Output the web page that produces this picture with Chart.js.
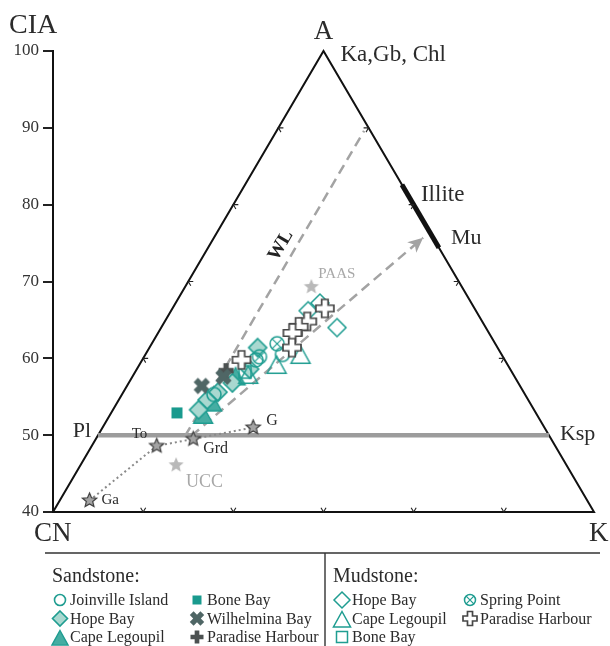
<!DOCTYPE html>
<html>
<head>
<meta charset="utf-8">
<title>A-CN-K diagram</title>
<script src="https://cdn.jsdelivr.net/npm/chart.js@4/dist/chart.umd.min.js"></script>
<style>
  html, body { margin: 0; padding: 0; background: #fff; }
  #c { display: block; }
</style>
</head>
<body>
<canvas id="c" width="610" height="646"></canvas>
<script>
// ---------------------------------------------------------------
// Compositions as [A (= CIA), K] in molar %, CN = 100 - A - K
// ---------------------------------------------------------------
const ciaTicks = [40, 50, 60, 70, 80, 90, 100];

// Sandstones
const sandJoinville     = [[60.5, 15.2], [59.8, 12.6], [55.3, 10.2]];
const sandHopeBay       = [[61.4, 12.0], [58.6, 12.5], [56.8, 11.5], [55.6, 10.5], [54.6, 9.8], [53.3, 9.5]];
const sandCapeLegoupil  = [[57.5, 11.5], [54.1, 10.6], [52.5, 10.4]];
const sandBoneBay       = [[52.9, 7.3]];
const sandWilhelmina    = [[56.4, 8.3], [57.6, 10.1]];
const sandParadise      = [[58.4, 10.0]];

// Mudstones
const mudHopeBay        = [[66.2, 15.2], [67.2, 16.0], [64.0, 19.5]];
const mudCapeLegoupil   = [[59.0, 15.3], [60.3, 17.3], [57.7, 12.8]];
const mudBoneBay        = [[58.2, 12.2]];
const mudSpringPoint    = [[61.9, 13.9], [60.2, 12.8]];
const mudParadise       = [[66.5, 16.9], [64.8, 15.8], [64.1, 15.2], [63.3, 14.9], [61.4, 15.8], [59.8, 11.0]];

// Igneous reference rocks (gabbro, tonalite, granodiorite, granite)
const rockNames = ['Ga', 'To', 'Grd', 'G'];
const rockA     = [41.5, 48.6, 49.5, 51.0];
const rockK     = [3.3, 7.2, 10.8, 16.7];

// Average crusts
const crustNames = ['PAAS', 'UCC'];
const crustA     = [69.3, 46.1];
const crustK     = [14.0, 10.6];

// Diagram frame and reference lines
const frameAK      = [[40, 0], [100, 0], [40, 60], [40, 0]];
const feldsparAK   = [[50, 0], [50, 50]];          // Pl - Ksp join
const illiteMuAK   = [[82.6, 17.4], [74.4, 25.6]];  // Illite - Mu field
const weatherAK    = [[49.9, 9.7], [89.6, 9.7]];    // WL trend
const trendAK      = [[49.9, 10.4], [75.7, 23.2]];  // trend towards Mu
const edgeTickA    = [60, 70, 80, 90];
const baseTickK    = [10, 20, 30, 40, 50];

// ternary [A, K] -> cartesian (x in 20..80, y = A)
const toXY = ([a, k]) => ({ x: k + a / 2, y: a });

// ---------------------------------------------------------------
// Marker styles
// ---------------------------------------------------------------
const TEAL = '#1f9d91';
const TEAL_LIGHT = '#a9d8d0';
const SERIF = "'Liberation Serif', 'Times New Roman', serif";

const markers = {
  sJoin:  { shape: 'circle',   stroke: TEAL, lw: 1.6, size: 7,   lsize: 5.5 },
  sHope:  { shape: 'diamond',  fill: TEAL_LIGHT, stroke: TEAL, lw: 1.6, size: 9, lsize: 7.5 },
  sCape:  { shape: 'triangle', fill: '#45ada2', stroke: TEAL, lw: 1.4, size: 10, lsize: 8.5 },
  sBone:  { shape: 'square',   fill: '#199a8e', size: 5.5, lsize: 4.5 },
  sWilh:  { shape: 'plus', rotate: Math.PI / 4, fill: '#4f6665', size: 8.5, lsize: 7.5 },
  sPara:  { shape: 'plus',     fill: '#4c5151', size: 7.5, lsize: 6.5 },
  mHope:  { shape: 'diamond',  stroke: TEAL, lw: 1.5, size: 9, lsize: 8 },
  mCape:  { shape: 'triangle', stroke: TEAL, lw: 1.5, size: 10, lsize: 9 },
  mBone:  { shape: 'square',   stroke: TEAL, lw: 1.5, size: 6, lsize: 5.5 },
  mSpring:{ shape: 'circle',   stroke: TEAL, lw: 1.5, inner: 'x', size: 7, lsize: 5.5 },
  mPara:  { shape: 'plus',     stroke: '#474747', fill: '#ffffff', lw: 1.7, size: 9, lsize: 7 },
  rock:   { shape: 'star',     fill: '#a3a3a3', stroke: '#3d3d3d', lw: 1.2, size: 7.5 },
  crust:  { shape: 'star',     fill: '#b9b9b9', size: 8 }
};

function shapePath(ctx, shape, s) {
  ctx.beginPath();
  if (shape === 'circle') {
    ctx.arc(0, 0, s, 0, Math.PI * 2);
  } else if (shape === 'diamond') {
    ctx.moveTo(0, -s); ctx.lineTo(s, 0); ctx.lineTo(0, s); ctx.lineTo(-s, 0); ctx.closePath();
  } else if (shape === 'triangle') {
    ctx.moveTo(0, -s); ctx.lineTo(s * 0.95, s * 0.72); ctx.lineTo(-s * 0.95, s * 0.72); ctx.closePath();
  } else if (shape === 'square') {
    ctx.rect(-s, -s, 2 * s, 2 * s);
  } else if (shape === 'plus') {
    const w = s * 0.36;
    const pts = [[-w, -s], [w, -s], [w, -w], [s, -w], [s, w], [w, w], [w, s], [-w, s], [-w, w], [-s, w], [-s, -w], [-w, -w]];
    pts.forEach((p, i) => i ? ctx.lineTo(p[0], p[1]) : ctx.moveTo(p[0], p[1]));
    ctx.closePath();
  } else if (shape === 'star') {
    for (let i = 0; i < 10; i++) {
      const r = i % 2 ? s * 0.45 : s;
      const ang = -Math.PI / 2 + i * Math.PI / 5;
      const px = r * Math.cos(ang), py = r * Math.sin(ang);
      i ? ctx.lineTo(px, py) : ctx.moveTo(px, py);
    }
    ctx.closePath();
  }
}

function paintMarker(ctx, m, x, y, s) {
  ctx.save();
  ctx.translate(x, y);
  if (m.rotate) ctx.rotate(m.rotate);
  shapePath(ctx, m.shape, s);
  if (m.fill) { ctx.fillStyle = m.fill; ctx.fill(); }
  if (m.stroke) {
    ctx.strokeStyle = m.stroke; ctx.lineWidth = m.lw || 1.5; ctx.lineJoin = 'miter'; ctx.stroke();
  }
  if (m.inner === 'x') {
    const d = s * 0.7;
    ctx.beginPath();
    ctx.moveTo(-d, -d); ctx.lineTo(d, d);
    ctx.moveTo(d, -d); ctx.lineTo(-d, d);
    ctx.strokeStyle = m.stroke; ctx.lineWidth = 1.2; ctx.stroke();
  }
  ctx.restore();
}

function markerCanvas(m) {
  const d = Math.ceil(m.size * 2 + 6);
  const c = document.createElement('canvas');
  c.width = d; c.height = d;
  paintMarker(c.getContext('2d'), m, d / 2, d / 2, m.size);
  return c;
}

function sampleSet(label, arr, m) {
  return {
    label, data: arr.map(toXY), showLine: false,
    pointStyle: markerCanvas(m), pointRadius: m.size, pointHoverRadius: m.size,
    order: 1, clip: false
  };
}

function lineSet(label, arr, color, width, dash, order) {
  return {
    label, data: arr.map(toXY), showLine: true, pointRadius: 0, pointHoverRadius: 0,
    borderColor: color, borderWidth: width, borderDash: dash || [], fill: false,
    tension: 0, order: order, clip: false
  };
}

const rockPts  = rockA.map((a, i) => [a, rockK[i]]);
const crustPts = crustA.map((a, i) => [a, crustK[i]]);

const datasets = [
  sampleSet('Mudstone Paradise Harbour', mudParadise, markers.mPara),
  sampleSet('Mudstone Hope Bay', mudHopeBay, markers.mHope),
  sampleSet('Mudstone Spring Point', mudSpringPoint, markers.mSpring),
  sampleSet('Mudstone Cape Legoupil', mudCapeLegoupil, markers.mCape),
  sampleSet('Mudstone Bone Bay', mudBoneBay, markers.mBone),
  sampleSet('Sandstone Joinville Island', sandJoinville, markers.sJoin),
  sampleSet('Sandstone Wilhelmina Bay', sandWilhelmina, markers.sWilh),
  sampleSet('Sandstone Paradise Harbour', sandParadise, markers.sPara),
  sampleSet('Sandstone Hope Bay', sandHopeBay, markers.sHope),
  sampleSet('Sandstone Cape Legoupil', sandCapeLegoupil, markers.sCape),
  sampleSet('Sandstone Bone Bay', sandBoneBay, markers.sBone),
  Object.assign(sampleSet('Igneous rocks', rockPts, markers.rock), { order: 2 }),
  Object.assign(sampleSet('Average crust', crustPts, markers.crust), { order: 2 }),
  lineSet('Igneous trend', rockPts, '#8a8a8a', 2, [2, 3], 6),
  lineSet('WL', weatherAK, '#a3a3a3', 2.5, [10, 6], 6),
  lineSet('Trend', trendAK, '#a3a3a3', 2.5, [10, 6], 6),
  lineSet('Pl-Ksp', feldsparAK, '#9c9c9c', 4.5, [], 7),
  lineSet('Illite-Mu', illiteMuAK, '#111', 5, [], 7),
  lineSet('Frame', frameAK, '#111', 2, [], 8)
];

// ---------------------------------------------------------------
// Overlay: edge ticks, arrow head, annotation text
// ---------------------------------------------------------------
const overlay = {
  id: 'overlay',
  afterDatasetsDraw(chart) {
    const ctx = chart.ctx;
    const xs = chart.scales.x, ys = chart.scales.y;
    const P = (a, k) => ({ x: xs.getPixelForValue(k + a / 2), y: ys.getPixelForValue(a) });
    const unit = (p, q) => { const dx = q.x - p.x, dy = q.y - p.y, l = Math.hypot(dx, dy); return { x: dx / l, y: dy / l }; };
    const cn = P(40, 0), ap = P(100, 0), kv = P(40, 60);

    ctx.save();
    // ternary edge ticks
    ctx.strokeStyle = '#222'; ctx.lineWidth = 1.1;
    const tick = (p, d1, d2) => {
      const L = 5;
      ctx.beginPath();
      ctx.moveTo(p.x + d1.x * L, p.y + d1.y * L);
      ctx.lineTo(p.x, p.y);
      ctx.lineTo(p.x + d2.x * L, p.y + d2.y * L);
      ctx.stroke();
    };
    edgeTickA.forEach(a => {
      tick(P(a, 0), { x: 1, y: 0 }, unit(ap, kv));
      tick(P(a, 100 - a), { x: -1, y: 0 }, unit(ap, cn));
    });
    baseTickK.forEach(k => tick(P(40, k), unit(cn, ap), unit(kv, ap)));

    // arrow head on the trend line
    const t0 = P(trendAK[0][0], trendAK[0][1]);
    const t1 = P(trendAK[1][0], trendAK[1][1]);
    const u = unit(t0, t1), n = { x: -u.y, y: u.x };
    ctx.fillStyle = '#a3a3a3';
    ctx.beginPath();
    ctx.moveTo(t1.x, t1.y);
    ctx.lineTo(t1.x - u.x * 15 + n.x * 7, t1.y - u.y * 15 + n.y * 7);
    ctx.lineTo(t1.x - u.x * 11, t1.y - u.y * 11);
    ctx.lineTo(t1.x - u.x * 15 - n.x * 7, t1.y - u.y * 15 - n.y * 7);
    ctx.closePath();
    ctx.fill();

    // text
    const text = (s, x, y, size, align, color, weight) => {
      ctx.font = (weight || 'normal') + ' ' + size + 'px ' + SERIF;
      ctx.textAlign = align || 'left';
      ctx.textBaseline = 'alphabetic';
      ctx.fillStyle = color || '#2b2b2b';
      ctx.fillText(s, x, y);
    };
    text('CIA', 9, 33, 28);
    text('A', ap.x, ap.y - 12, 27, 'center');
    text('Ka,Gb, Chl', ap.x + 17, ap.y + 10, 23);
    text('CN', cn.x - 19, cn.y + 29, 27);
    text('K', kv.x - 5, kv.y + 29, 27);

    const pl = P(feldsparAK[0][0], feldsparAK[0][1]);
    const ksp = P(feldsparAK[1][0], feldsparAK[1][1]);
    text('Pl', pl.x - 7, pl.y + 2, 22, 'right');
    text('Ksp', ksp.x + 11, ksp.y + 5, 22);
    const il = P(illiteMuAK[0][0], illiteMuAK[0][1]);
    const mu = P(illiteMuAK[1][0], illiteMuAK[1][1]);
    text('Illite', il.x + 19, il.y + 16, 23);
    text('Mu', mu.x + 12, mu.y - 4, 22);

    const rockOff = [[12, 4], [-25, -8], [10, 14], [13, -2]];
    rockPts.forEach((p, i) => {
      const q = P(p[0], p[1]);
      text(rockNames[i], q.x + rockOff[i][0], q.y + rockOff[i][1], i < 2 ? 15 : 16);
    });
    const crustOff = [[7, -9, 15], [10, 22, 18]];
    crustPts.forEach((p, i) => {
      const q = P(p[0], p[1]);
      text(crustNames[i], q.x + crustOff[i][0], q.y + crustOff[i][1], crustOff[i][2], 'left', '#a8a8a8');
    });

    // WL label, rotated along the weathering line
    const w0 = P(weatherAK[0][0], weatherAK[0][1]);
    const w1 = P(weatherAK[1][0], weatherAK[1][1]);
    const ang = Math.atan2(w1.y - w0.y, w1.x - w0.x);
    const wm = P(74.7, weatherAK[0][1]);
    ctx.save();
    ctx.translate(wm.x - 16, wm.y);
    ctx.rotate(ang);
    ctx.font = 'bold 19px ' + SERIF;
    ctx.textAlign = 'center'; ctx.textBaseline = 'middle'; ctx.fillStyle = '#222';
    ctx.fillText('WL', 0, 0);
    ctx.restore();

    ctx.restore();
  },
  afterDraw(chart) {
    // legend box below the diagram
    const ctx = chart.ctx;
    ctx.save();
    ctx.strokeStyle = '#333'; ctx.lineWidth = 1.4;
    ctx.beginPath();
    ctx.moveTo(45, 553); ctx.lineTo(600, 553);
    ctx.moveTo(325, 553); ctx.lineTo(325, 646);
    ctx.stroke();

    ctx.fillStyle = '#2b2b2b';
    ctx.textAlign = 'left'; ctx.textBaseline = 'alphabetic';
    ctx.font = '20px ' + SERIF;
    ctx.fillText('Sandstone:', 52, 582);
    ctx.fillText('Mudstone:', 333, 582);

    const rows = [600, 618.5, 637];
    const items = [
      [60, 0, markers.sJoin, 'Joinville Island'],
      [60, 1, markers.sHope, 'Hope Bay'],
      [60, 2, markers.sCape, 'Cape Legoupil'],
      [197, 0, markers.sBone, 'Bone Bay'],
      [197, 1, markers.sWilh, 'Wilhelmina Bay'],
      [197, 2, markers.sPara, 'Paradise Harbour'],
      [342, 0, markers.mHope, 'Hope Bay'],
      [342, 1, markers.mCape, 'Cape Legoupil'],
      [342, 2, markers.mBone, 'Bone Bay'],
      [470, 0, markers.mSpring, 'Spring Point'],
      [470, 1, markers.mPara, 'Paradise Harbour']
    ];
    ctx.font = '16px ' + SERIF;
    ctx.textBaseline = 'middle';
    items.forEach(([x, r, m, label]) => {
      const y = rows[r];
      const dy = m.shape === 'triangle' ? 2 : 0;
      paintMarker(ctx, m, x, y + dy, m.lsize);
      ctx.fillStyle = '#2b2b2b';
      ctx.fillText(label, x + 10, y + 1);
    });
    ctx.restore();
  }
};

Chart.defaults.font.family = SERIF;

new Chart(document.getElementById('c'), {
  type: 'scatter',
  data: { datasets },
  options: {
    responsive: false,
    animation: false,
    devicePixelRatio: 1,
    events: [],
    layout: { padding: { top: 51, right: 16, bottom: 134, left: 0 } },
    plugins: { legend: { display: false }, tooltip: { enabled: false } },
    scales: {
      x: { type: 'linear', min: 20, max: 80, display: false },
      y: {
        type: 'linear', min: 40, max: 100, position: 'left',
        afterBuildTicks: s => { s.ticks = ciaTicks.map(v => ({ value: v })); },
        afterFit: s => { s.width = 53; },
        ticks: { color: '#333', font: { family: SERIF, size: 17 }, padding: 4 },
        grid: { drawOnChartArea: false, drawTicks: true, tickLength: 10, color: '#222', lineWidth: 2 },
        border: { display: true, color: '#111', width: 2 }
      }
    }
  },
  plugins: [overlay]
});
</script>
</body>
</html>
